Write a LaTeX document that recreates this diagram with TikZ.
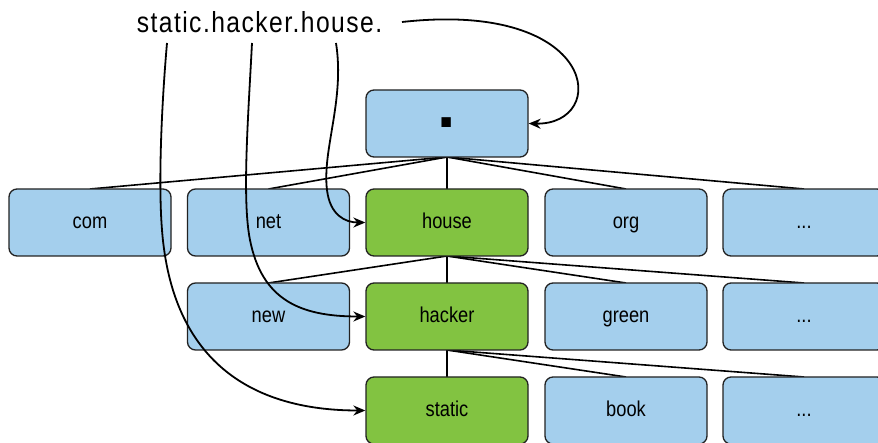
\documentclass[tikz,border=0pt]{standalone}
\usepackage{fontspec}
\setmainfont{Liberation Sans}
\newfontfamily\condfont{Liberation Sans}[FakeStretch=0.85]
\newfontfamily\headfont{Liberation Sans}[FakeStretch=0.85,LetterSpace=5]
\usetikzlibrary{arrows.meta}
\definecolor{boxblue}{RGB}{164,207,237}
\definecolor{boxgreen}{RGB}{130,195,65}
\definecolor{boxline}{RGB}{34,34,34}
\tikzset{
  dnsbox/.style={draw=boxline, line width=1.3pt, rounded corners=8pt, minimum width=162pt, minimum height=67pt, inner sep=0pt, text height=15.6pt, text depth=4pt, font=\condfont\fontsize{21.5}{24}\selectfont},
  bluebox/.style={dnsbox, fill=boxblue},
  greenbox/.style={dnsbox, fill=boxgreen},
  treeedge/.style={line width=1.6pt, black},
  pathcurve/.style={line width=1.8pt, black, -{Stealth[length=12pt,width=10pt]}}
}
\begin{document}
\begin{tikzpicture}[x=1pt,y=-1pt]
\useasboundingbox (0,0) rectangle (878,443);
\clip (0,0) rectangle (878,443);
% tree edges (drawn first, under the boxes)
\coordinate (rootb) at (447,157);
\coordinate (houseb) at (447,256);
\coordinate (hackerb) at (447,350);
\foreach \x in {90,268.5,447,626,804}{\draw[treeedge] (rootb) -- (\x,189);}
\foreach \x in {268.5,447,626,804}{\draw[treeedge] (houseb) -- (\x,283);}
\foreach \x in {447,626,804}{\draw[treeedge] (hackerb) -- (\x,377);}
% boxes
\node[bluebox] (root) at (447,123.5) {};
\node[anchor=base, inner sep=0pt, font=\bfseries\fontsize{66}{66}\selectfont] (rootdot) at (447,128) {.};
\node[bluebox] (com) at (90,222.5) {com};
\node[bluebox] (net) at (268.5,222.5) {net};
\node[greenbox] (house) at (447,222.5) {house};
\node[bluebox] (org) at (626,222.5) {org};
\node[bluebox] (dots1) at (804,222.5) {...};
\node[bluebox] (new) at (268.5,316.5) {new};
\node[greenbox] (hacker) at (447,316.5) {hacker};
\node[bluebox] (green) at (626,316.5) {green};
\node[bluebox] (dots2) at (804,316.5) {...};
\node[greenbox] (static) at (447,410.5) {static};
\node[bluebox] (book) at (626,410.5) {book};
\node[bluebox] (dots3) at (804,410.5) {...};
% query name
\node[anchor=base, inner sep=0pt, font=\headfont\fontsize{29}{32}\selectfont] (qname) at (259.5,33) {static.hacker.house.};
\coordinate (s0) at (402,22);
\coordinate (s1) at (336,43);
\coordinate (s2) at (252,43);
\coordinate (s3) at (167,43);
% resolution arrows
\draw[pathcurve] (s0) .. controls (600,0) and (610,125) .. (root.east);
\draw[pathcurve] (s1) .. controls (345,100) and (322,150) .. (327,190) .. controls (330,215) and (345,222.5) .. (house.west);
\draw[pathcurve] (s2) .. controls (248,120) and (242,200) .. (250,240) .. controls (262,300) and (300,316.5) .. (hacker.west);
\draw[pathcurve] (s3) .. controls (162,100) and (158,180) .. (162,230) .. controls (172,360) and (250,410.5) .. (static.west);
\end{tikzpicture}
\end{document}
